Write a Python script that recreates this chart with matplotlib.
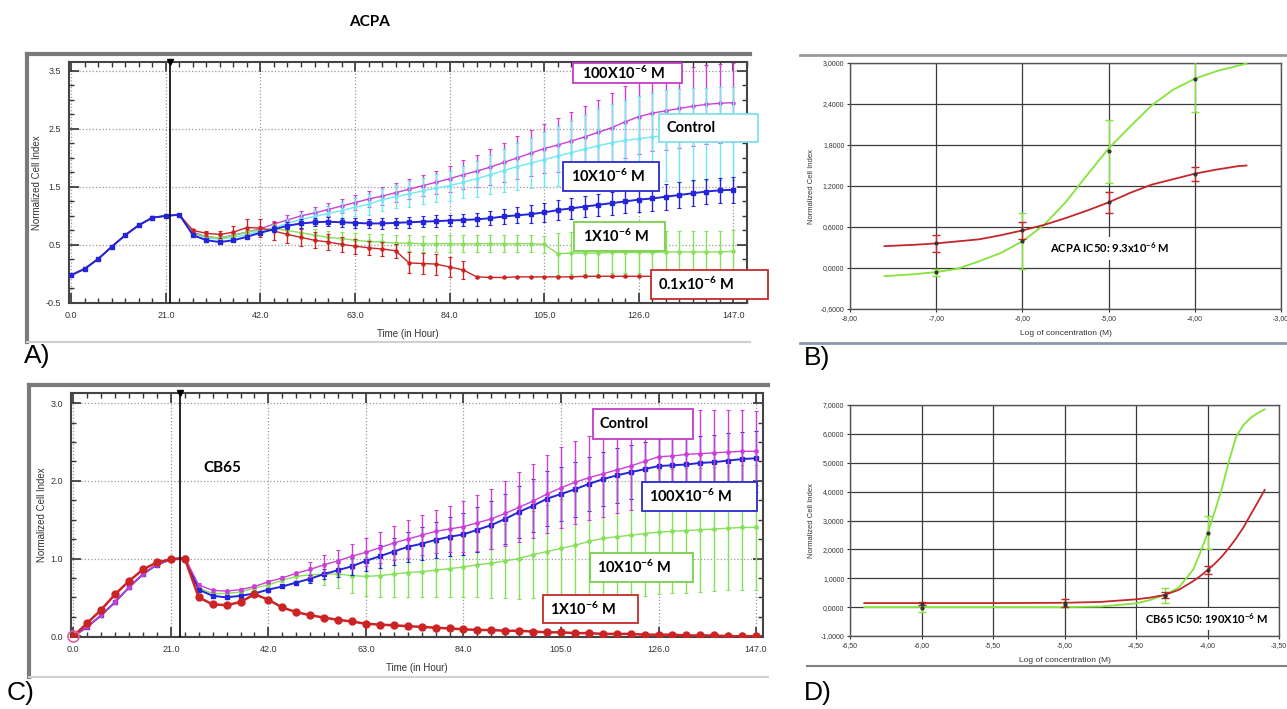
import matplotlib
matplotlib.use("Agg")
import matplotlib.pyplot as plt
from matplotlib.patches import Rectangle
from matplotlib.lines import Line2D
from matplotlib.ticker import MultipleLocator

plt.rcParams['font.family'] = ['Liberation Sans', 'DejaVu Sans']
plt.rcParams['mathtext.fontset'] = 'custom'
plt.rcParams['mathtext.rm'] = 'Lato'
plt.rcParams['mathtext.bf'] = 'Lato:bold'
plt.rcParams['mathtext.it'] = 'Lato:italic'

# ---------------- data ----------------
time_h = [0, 3, 6, 9, 12, 15, 18, 21, 24, 27, 30, 33, 36, 39, 42, 45, 48, 51, 54, 57,
          60, 63, 66, 69, 72, 75, 78, 81, 84, 87, 90, 93, 96, 99, 102, 105, 108, 111, 114, 117,
          120, 123, 126, 129, 132, 135, 138, 141, 144, 147]
time_ticks = [0, 21, 42, 63, 84, 105, 126, 147]
time_ticklabels = ["0.0", "21.0", "42.0", "63.0", "84.0", "105.0", "126.0", "147.0"]

# Panel A (ACPA)
a_early = [-0.02, 0.09, 0.26, 0.47, 0.67, 0.84, 0.97, 1.00, 1.02]
a_100 = a_early + [0.72, 0.64, 0.62, 0.67, 0.72, 0.78, 0.86, 0.93, 1.00, 1.05, 1.11, 1.17, 1.23, 1.29,
                   1.34, 1.40, 1.46, 1.52, 1.58, 1.64, 1.71, 1.77, 1.84, 1.92, 2.00, 2.08, 2.16, 2.22,
                   2.29, 2.36, 2.44, 2.52, 2.62, 2.71, 2.77, 2.81, 2.85, 2.89, 2.92, 2.94, 2.95]
a_ctrl = a_early + [0.70, 0.62, 0.60, 0.63, 0.68, 0.74, 0.80, 0.87, 0.94, 0.99, 1.04, 1.09, 1.15, 1.20,
                    1.28, 1.33, 1.38, 1.43, 1.48, 1.52, 1.58, 1.64, 1.71, 1.78, 1.85, 1.91, 1.97, 2.03,
                    2.09, 2.15, 2.21, 2.26, 2.30, 2.33, 2.36, 2.38, 2.39, 2.40, 2.41, 2.42, 2.42]
a_10 = a_early + [0.67, 0.58, 0.55, 0.58, 0.64, 0.71, 0.77, 0.83, 0.87, 0.89, 0.90, 0.89, 0.88, 0.87,
                  0.87, 0.88, 0.89, 0.90, 0.91, 0.92, 0.93, 0.94, 0.96, 0.99, 1.01, 1.03, 1.06, 1.10,
                  1.13, 1.16, 1.19, 1.22, 1.25, 1.28, 1.30, 1.33, 1.36, 1.39, 1.42, 1.44, 1.45]
a_1 = a_early + [0.70, 0.64, 0.62, 0.66, 0.72, 0.76, 0.78, 0.75, 0.71, 0.67, 0.63, 0.61, 0.58, 0.56,
                 0.55, 0.53, 0.53, 0.52, 0.52, 0.52, 0.52, 0.52, 0.52, 0.52, 0.52, 0.52, 0.51, 0.35,
                 0.36, 0.36, 0.36, 0.37, 0.37, 0.37, 0.37, 0.38, 0.38, 0.38, 0.38, 0.38, 0.39]
a_01 = a_early + [0.75, 0.70, 0.68, 0.72, 0.80, 0.79, 0.74, 0.68, 0.63, 0.58, 0.55, 0.51, 0.48, 0.45,
                  0.43, 0.40, 0.19, 0.18, 0.17, 0.12, 0.07, -0.05, -0.06, -0.06, -0.05, -0.05, -0.05, -0.05,
                  -0.05, -0.04, -0.04, -0.04, -0.04, -0.04, -0.04, -0.04, -0.03, -0.03, -0.03, -0.03, -0.03]
e_early = [0.02] * 9
a_100_err = e_early + [0.03, 0.03, 0.03, 0.03, 0.04, 0.05, 0.06, 0.08, 0.09, 0.10, 0.11, 0.12, 0.13, 0.14,
                       0.15, 0.16, 0.17, 0.18, 0.20, 0.22, 0.25, 0.28, 0.31, 0.34, 0.37, 0.40, 0.43, 0.46,
                       0.50, 0.53, 0.56, 0.59, 0.62, 0.64, 0.66, 0.67, 0.68, 0.68, 0.68, 0.68, 0.68]
a_ctrl_err = e_early + [0.03, 0.03, 0.03, 0.03, 0.03, 0.03, 0.06, 0.08, 0.10, 0.12, 0.13, 0.15, 0.16, 0.18,
                        0.19, 0.20, 0.22, 0.23, 0.24, 0.26, 0.28, 0.31, 0.34, 0.37, 0.40, 0.43, 0.47, 0.51,
                        0.55, 0.59, 0.63, 0.67, 0.70, 0.73, 0.76, 0.78, 0.80, 0.80, 0.80, 0.80, 0.80]
a_10_err = e_early + [0.02, 0.02, 0.02, 0.02, 0.02, 0.02, 0.05, 0.06, 0.07, 0.07, 0.08, 0.08, 0.08, 0.08,
                      0.09, 0.09, 0.09, 0.09, 0.10, 0.10, 0.11, 0.11, 0.12, 0.13, 0.14, 0.15, 0.16, 0.17,
                      0.18, 0.18, 0.19, 0.20, 0.20, 0.21, 0.21, 0.22, 0.22, 0.22, 0.22, 0.22, 0.22]
a_1_err = e_early + [0.02, 0.02, 0.02, 0.03, 0.04, 0.05, 0.06, 0.08, 0.09, 0.10, 0.11, 0.12, 0.12, 0.13,
                     0.13, 0.14, 0.14, 0.14, 0.15, 0.15, 0.15, 0.15, 0.15, 0.15, 0.15, 0.15, 0.15, 0.36,
                     0.36, 0.36, 0.36, 0.36, 0.36, 0.36, 0.36, 0.36, 0.36, 0.36, 0.36, 0.36, 0.36]
a_01_err = e_early + [0.03, 0.04, 0.06, 0.10, 0.14, 0.15, 0.16, 0.15, 0.14, 0.14, 0.14, 0.13, 0.13, 0.12,
                      0.12, 0.12, 0.18, 0.18, 0.18, 0.18, 0.16, 0.02, 0.01, 0.01, 0.01, 0.01, 0.01, 0.01,
                      0.01, 0.01, 0.01, 0.01, 0.01, 0.01, 0.01, 0.01, 0.01, 0.01, 0.01, 0.01, 0.01]
acpa_event_h = 22.0

# Panel C (CB65)
c_early = [0.0, 0.12, 0.27, 0.44, 0.63, 0.80, 0.92, 0.99, 1.01]
c_ctrl = c_early + [0.66, 0.59, 0.58, 0.60, 0.64, 0.70, 0.75, 0.81, 0.86, 0.92, 0.97, 1.03, 1.08, 1.14,
                    1.20, 1.25, 1.30, 1.35, 1.38, 1.41, 1.46, 1.51, 1.58, 1.66, 1.74, 1.83, 1.91, 1.98,
                    2.04, 2.09, 2.14, 2.19, 2.25, 2.31, 2.32, 2.34, 2.35, 2.36, 2.37, 2.38, 2.38]
c_100 = c_early + [0.60, 0.52, 0.50, 0.52, 0.55, 0.60, 0.64, 0.69, 0.74, 0.80, 0.85, 0.90, 0.97, 1.03,
                   1.09, 1.15, 1.19, 1.24, 1.28, 1.31, 1.37, 1.43, 1.51, 1.60, 1.68, 1.77, 1.83, 1.89,
                   1.96, 2.02, 2.07, 2.11, 2.15, 2.19, 2.20, 2.21, 2.23, 2.24, 2.26, 2.28, 2.29]
c_10 = c_early + [0.62, 0.55, 0.55, 0.57, 0.62, 0.66, 0.72, 0.77, 0.79, 0.80, 0.80, 0.78, 0.77, 0.78,
                  0.80, 0.82, 0.83, 0.85, 0.87, 0.89, 0.92, 0.94, 0.97, 1.00, 1.05, 1.09, 1.13, 1.17,
                  1.22, 1.26, 1.28, 1.30, 1.32, 1.34, 1.35, 1.36, 1.37, 1.38, 1.39, 1.40, 1.40]
c_1 = [0.0, 0.17, 0.34, 0.54, 0.71, 0.86, 0.95, 0.99, 1.00,
       0.50, 0.41, 0.40, 0.44, 0.54, 0.47, 0.37, 0.31, 0.27, 0.24, 0.21, 0.19, 0.16, 0.15, 0.14,
       0.13, 0.12, 0.11, 0.10, 0.09, 0.08, 0.08, 0.07, 0.07, 0.06, 0.05, 0.05, 0.04, 0.04,
       0.03, 0.03, 0.03, 0.02, 0.02, 0.02, 0.01, 0.01, 0.01, 0.0, 0.0, 0.0]
c_ctrl_err = e_early + [0.02, 0.02, 0.02, 0.02, 0.02, 0.02, 0.02, 0.02, 0.10, 0.12, 0.14, 0.16, 0.18, 0.20,
                        0.22, 0.24, 0.26, 0.28, 0.30, 0.33, 0.36, 0.39, 0.42, 0.45, 0.48, 0.50, 0.52, 0.53,
                        0.54, 0.55, 0.56, 0.57, 0.58, 0.58, 0.58, 0.57, 0.56, 0.55, 0.54, 0.53, 0.52]
c_100_err = e_early + [0.02, 0.02, 0.02, 0.02, 0.02, 0.02, 0.02, 0.02, 0.05, 0.07, 0.09, 0.11, 0.13, 0.15,
                       0.17, 0.19, 0.21, 0.23, 0.25, 0.27, 0.29, 0.31, 0.32, 0.33, 0.34, 0.35, 0.35, 0.35,
                       0.35, 0.35, 0.35, 0.35, 0.35, 0.35, 0.35, 0.35, 0.35, 0.35, 0.35, 0.35, 0.35]
c_10_err = e_early + [0.02, 0.02, 0.02, 0.02, 0.02, 0.02, 0.02, 0.06, 0.10, 0.14, 0.18, 0.22, 0.25, 0.27,
                      0.29, 0.31, 0.33, 0.35, 0.37, 0.39, 0.42, 0.45, 0.48, 0.52, 0.56, 0.60, 0.64, 0.68,
                      0.72, 0.75, 0.77, 0.79, 0.80, 0.80, 0.80, 0.80, 0.80, 0.80, 0.80, 0.80, 0.80]
c_1_err = [0.02] * 50
cb65_event_h = 23.0

# Panel B (ACPA dose-response)
b_fit_x = [-7.6, -7.25, -7.0, -6.75, -6.5, -6.25, -6.0, -5.75, -5.5, -5.25, -5.0, -4.75, -4.5,
           -4.25, -4.0, -3.75, -3.5, -3.4]
b_fit_green = [-0.12, -0.09, -0.06, -0.01, 0.10, 0.22, 0.39, 0.63, 0.96, 1.36, 1.75, 2.07, 2.38,
               2.61, 2.77, 2.88, 2.96, 2.99]
b_fit_red = [0.32, 0.34, 0.36, 0.39, 0.42, 0.48, 0.55, 0.63, 0.73, 0.84, 0.96, 1.10, 1.22,
             1.30, 1.38, 1.44, 1.49, 1.50]
b_pts_x = [-7.0, -6.0, -5.0, -4.0]
b_pts_green = [-0.06, 0.39, 1.71, 2.77]
b_err_green = [0.05, 0.41, 0.46, 0.49]
b_pts_red = [0.36, 0.55, 0.96, 1.38]
b_err_red = [0.12, 0.13, 0.15, 0.10]
b_xticks = [-8, -7, -6, -5, -4, -3]
b_xticklabels = ["-8,00", "-7,00", "-6,00", "-5,00", "-4,00", "-3,00"]
b_yticks = [-0.6, 0.0, 0.6, 1.2, 1.8, 2.4, 3.0]
b_yticklabels = ["-0,6000", "0,0000", "0,6000", "1,2000", "1,8000", "2,4000", "3,0000"]

# Panel D (CB65 dose-response)
d_fit_x = [-6.4, -6.0, -5.5, -5.0, -4.75, -4.5, -4.4, -4.3, -4.2, -4.1, -4.05, -4.0, -3.95,
           -3.9, -3.85, -3.8, -3.75, -3.7, -3.65, -3.6]
d_fit_green = [0.0, 0.0, 0.0, 0.0, 0.02, 0.13, 0.25, 0.42, 0.68, 1.30, 1.90, 2.55, 3.30,
               4.10, 5.05, 5.90, 6.30, 6.55, 6.72, 6.85]
d_fit_red = [0.14, 0.14, 0.14, 0.15, 0.18, 0.27, 0.33, 0.42, 0.60, 0.90, 1.08, 1.28, 1.50,
             1.75, 2.05, 2.38, 2.75, 3.19, 3.62, 4.06]
d_pts_x = [-6.0, -5.0, -4.3, -4.0]
d_pts_green = [-0.04, 0.07, 0.40, 2.58]
d_err_green = [0.12, 0.08, 0.25, 0.58]
d_pts_red = [0.12, 0.13, 0.42, 1.28]
d_err_red = [0.06, 0.14, 0.12, 0.15]
d_xticks = [-6.5, -6.0, -5.5, -5.0, -4.5, -4.0, -3.5]
d_xticklabels = ["-6,50", "-6,00", "-5,50", "-5,00", "-4,50", "-4,00", "-3,50"]
d_yticks = [-1, 0, 1, 2, 3, 4, 5, 6, 7]
d_yticklabels = ["-1,0000", "0,0000", "1,0000", "2,0000", "3,0000", "4,0000", "5,0000", "6,0000", "7,0000"]

# ---------------- figure ----------------
W, H = 1287, 709
fig = plt.figure(figsize=(W / 100, H / 100), dpi=100)
fig.patch.set_facecolor("white")


def rect(l, t, r, b):
    return [l / W, 1 - b / H, (r - l) / W, (b - t) / H]


def fline(xs, ys, color, lw):
    fig.add_artist(Line2D([x / W for x in xs], [1 - y / H for y in ys], color=color, lw=lw))


def label_box(l, t, r, b, text, edge, pad=8):
    fig.add_artist(Rectangle((l / W, 1 - b / H), (r - l) / W, (b - t) / H,
                             transform=fig.transFigure, facecolor="white",
                             edgecolor=edge, lw=1.3, zorder=5))
    fig.text((l + pad) / W, 1 - ((t + b) / 2) / H, text, ha="left", va="center",
             fontsize=10.5, fontweight="bold", family="Lato", zorder=6)


MAG = "#cc3fd6"
CYAN = "#6fe8f2"
BLUE = "#2424d8"
GREEN = "#86e05a"
RED = "#cc2424"


def style_ts(ax, ylim, yticks, yticklabels, xlim):
    ax.set_xlim(*xlim)
    ax.set_ylim(*ylim)
    ax.set_xticks(time_ticks)
    ax.set_xticklabels(time_ticklabels)
    ax.set_yticks(yticks)
    ax.set_yticklabels(yticklabels)
    ax.xaxis.set_minor_locator(MultipleLocator(3))
    ax.yaxis.set_minor_locator(MultipleLocator(0.25))
    ax.tick_params(which="both", direction="in", top=True, right=True, colors="#333",
                   labelsize=6.5)
    ax.tick_params(which="major", length=7, width=1.2, pad=6)
    ax.tick_params(which="minor", length=3.5, width=1)
    ax.grid(True, which="major", linestyle=":", color="#999", linewidth=0.9)
    for s in ax.spines.values():
        s.set_color("#444")
        s.set_linewidth(1.5)
    ax.set_xlabel("Time (in Hour)", fontsize=7, color="#333", loc="center", labelpad=6)
    ax.set_ylabel("Normalized Cell Index", fontsize=7, color="#333", labelpad=2)


def series(ax, y, err, color, marker, ms, lw=1.0, z=2):
    ax.errorbar(time_h, y, yerr=err, color=color, ecolor=color, marker=marker, ms=ms,
                lw=lw, elinewidth=1.0, capsize=1.2, capthick=0.8, zorder=z)


# Panel A
axA = fig.add_axes(rect(69, 62, 747, 303))
style_ts(axA, (-0.5, 3.65), [-0.5, 0.5, 1.5, 2.5, 3.5], ["-0.5", "0.5", "1.5", "2.5", "3.5"], (-0.5, 150))
series(axA, a_100, a_100_err, MAG, "o", 2.2, z=2)
series(axA, a_ctrl, a_ctrl_err, CYAN, "o", 2.0, z=3)
series(axA, a_1, a_1_err, GREEN, "o", 2.2, z=4)
series(axA, a_01, a_01_err, RED, "o", 2.2, z=5)
series(axA, a_10, a_10_err, BLUE, "s", 3.2, lw=1.4, z=6)
axA.axvline(acpa_event_h, color="black", lw=1.2, zorder=7)
axA.plot([acpa_event_h], [3.65], marker="v", color="black", ms=5, clip_on=False, zorder=8)

# Panel C
axC = fig.add_axes(rect(71, 393, 763, 637))
style_ts(axC, (-0.01, 3.13), [0, 1, 2, 3], ["0.0", "1.0", "2.0", "3.0"], (-0.5, 148.5))
series(axC, c_10, c_10_err, GREEN, "o", 2.4, z=2)
series(axC, c_100, c_100_err, BLUE, "s", 3.0, lw=1.4, z=3)
series(axC, c_ctrl, c_ctrl_err, MAG, "o", 2.4, z=4)
series(axC, c_1, c_1_err, RED, "o", 5.0, lw=1.8, z=5)
axC.plot([0], [0], marker="o", ms=8, mfc="none", mec="#e0609a", mew=1.2, clip_on=False, zorder=6)
axC.axvline(cb65_event_h, color="black", lw=1.2, zorder=7)
axC.plot([cb65_event_h], [3.13], marker="v", color="black", ms=5, clip_on=False, zorder=8)


def style_dr(ax, xlim, ylim, xticks, xtl, yticks, ytl):
    ax.set_xlim(*xlim)
    ax.set_ylim(*ylim)
    ax.set_xticks(xticks)
    ax.set_xticklabels(xtl)
    ax.set_yticks(yticks)
    ax.set_yticklabels(ytl)
    ax.tick_params(labelsize=5, colors="#333", length=2, pad=2)
    ax.grid(True, color="#3a3a3a", linewidth=0.9)
    ax.set_axisbelow(True)
    for s in ax.spines.values():
        s.set_color("#555")
        s.set_linewidth(1.0)
    ax.set_xlabel("Log of concentration (M)", fontsize=6, color="#333", labelpad=6)
    ax.set_ylabel("Normalized Cell Index", fontsize=5.5, color="#333", labelpad=4)


DR_GREEN = "#84e33c"
DR_RED = "#c4262b"

# Panel B
axB = fig.add_axes(rect(850, 63, 1281, 309))
style_dr(axB, (-8, -3), (-0.6, 3.0), b_xticks, b_xticklabels, b_yticks, b_yticklabels)
axB.plot(b_fit_x, b_fit_green, color=DR_GREEN, lw=1.3, zorder=3)
axB.plot(b_fit_x, b_fit_red, color=DR_RED, lw=1.3, zorder=3)
axB.errorbar(b_pts_x, b_pts_green, yerr=b_err_green, fmt="o", color="#333", ms=2,
             ecolor=DR_GREEN, elinewidth=1, capsize=3, zorder=4)
axB.errorbar(b_pts_x, b_pts_red, yerr=b_err_red, fmt="o", color="#333", ms=2,
             ecolor=DR_RED, elinewidth=1, capsize=3, zorder=4)
axB.text(-5.68, 0.29, r"ACPA IC50: 9.3x10$^{\mathbf{-6}}$ M", fontsize=8, fontweight="bold",
         family="Lato", ha="left", va="center", zorder=6,
         bbox=dict(facecolor="white", edgecolor="none", pad=3))

# Panel D
axD = fig.add_axes(rect(850, 405, 1279, 636))
style_dr(axD, (-6.5, -3.5), (-1, 7), d_xticks, d_xticklabels, d_yticks, d_yticklabels)
axD.plot(d_fit_x, d_fit_green, color=DR_GREEN, lw=1.3, zorder=3)
axD.plot(d_fit_x, d_fit_red, color=DR_RED, lw=1.3, zorder=3)
axD.errorbar(d_pts_x, d_pts_green, yerr=d_err_green, fmt="o", color="#333", ms=2,
             ecolor=DR_GREEN, elinewidth=1, capsize=3, zorder=4)
axD.errorbar(d_pts_x, d_pts_red, yerr=d_err_red, fmt="o", color="#333", ms=2,
             ecolor=DR_RED, elinewidth=1, capsize=3, zorder=4)
axD.add_patch(Rectangle((-4.49, -0.78), 0.92, 0.74, facecolor="white", edgecolor="none", zorder=5))
axD.text(-4.44, -0.40, r"CB65 IC50: 190X10$^{\mathbf{-6}}$ M", fontsize=8, fontweight="bold",
         family="Lato", ha="left", va="center", zorder=6)

# frames
fline([27, 27], [342, 54], "#7a7a7a", 3)
fline([27, 750], [54, 54], "#7a7a7a", 3)
fline([27, 750], [342, 342], "#d0d0d0", 1.5)
fline([29, 29], [677, 385], "#7a7a7a", 3)
fline([29, 768], [385, 385], "#7a7a7a", 3)
fline([29, 768], [677, 677], "#d0d0d0", 1.5)
fline([800, 1287], [55, 55], "#9a9a9a", 2)
fline([800, 1287], [343, 343], "#8c98a8", 2)
fline([807, 1287], [666, 666], "#808080", 1.5)

# legend boxes A
label_box(573, 63, 682, 83, r"100X10$^{\mathbf{-6}}$ M", "#c33cc9", pad=9)
label_box(659, 114, 758, 142, "Control", "#7fe0ee", pad=8)
label_box(563, 162, 659, 191, r"10X10$^{\mathbf{-6}}$ M", "#2a2ad0", pad=8)
label_box(574, 222, 665, 251, r"1X10$^{\mathbf{-6}}$ M", "#7ad04a", pad=9)
label_box(651, 270, 768, 299, r"0.1x10$^{\mathbf{-6}}$ M", "#c42a2a", pad=7)

# legend boxes C
label_box(593, 409, 693, 439, "Control", "#c33cc9", pad=7)
label_box(642, 482, 757, 511, r"100X10$^{\mathbf{-6}}$ M", "#2a2ad0", pad=7)
label_box(590, 553, 693, 582, r"10X10$^{\mathbf{-6}}$ M", "#7ad04a", pad=7)
label_box(543, 595, 638, 623, r"1X10$^{\mathbf{-6}}$ M", "#c42a2a", pad=7)

fig.text(203 / W, 1 - 468 / H, "CB65", fontsize=11, fontweight="bold", family="Lato",
         ha="left", va="center")
fig.text(370 / W, 1 - 22 / H, "ACPA", fontsize=11, fontweight="bold", family="Lato",
         ha="center", va="center")

for lab, x, y in [("A)", 24, 356), ("B)", 804, 358), ("C)", 7, 693), ("D)", 804, 693)]:
    fig.text(x / W, 1 - y / H, lab, fontsize=19, ha="left", va="center", family="Liberation Sans")

fig.savefig("out.png", dpi=100)
